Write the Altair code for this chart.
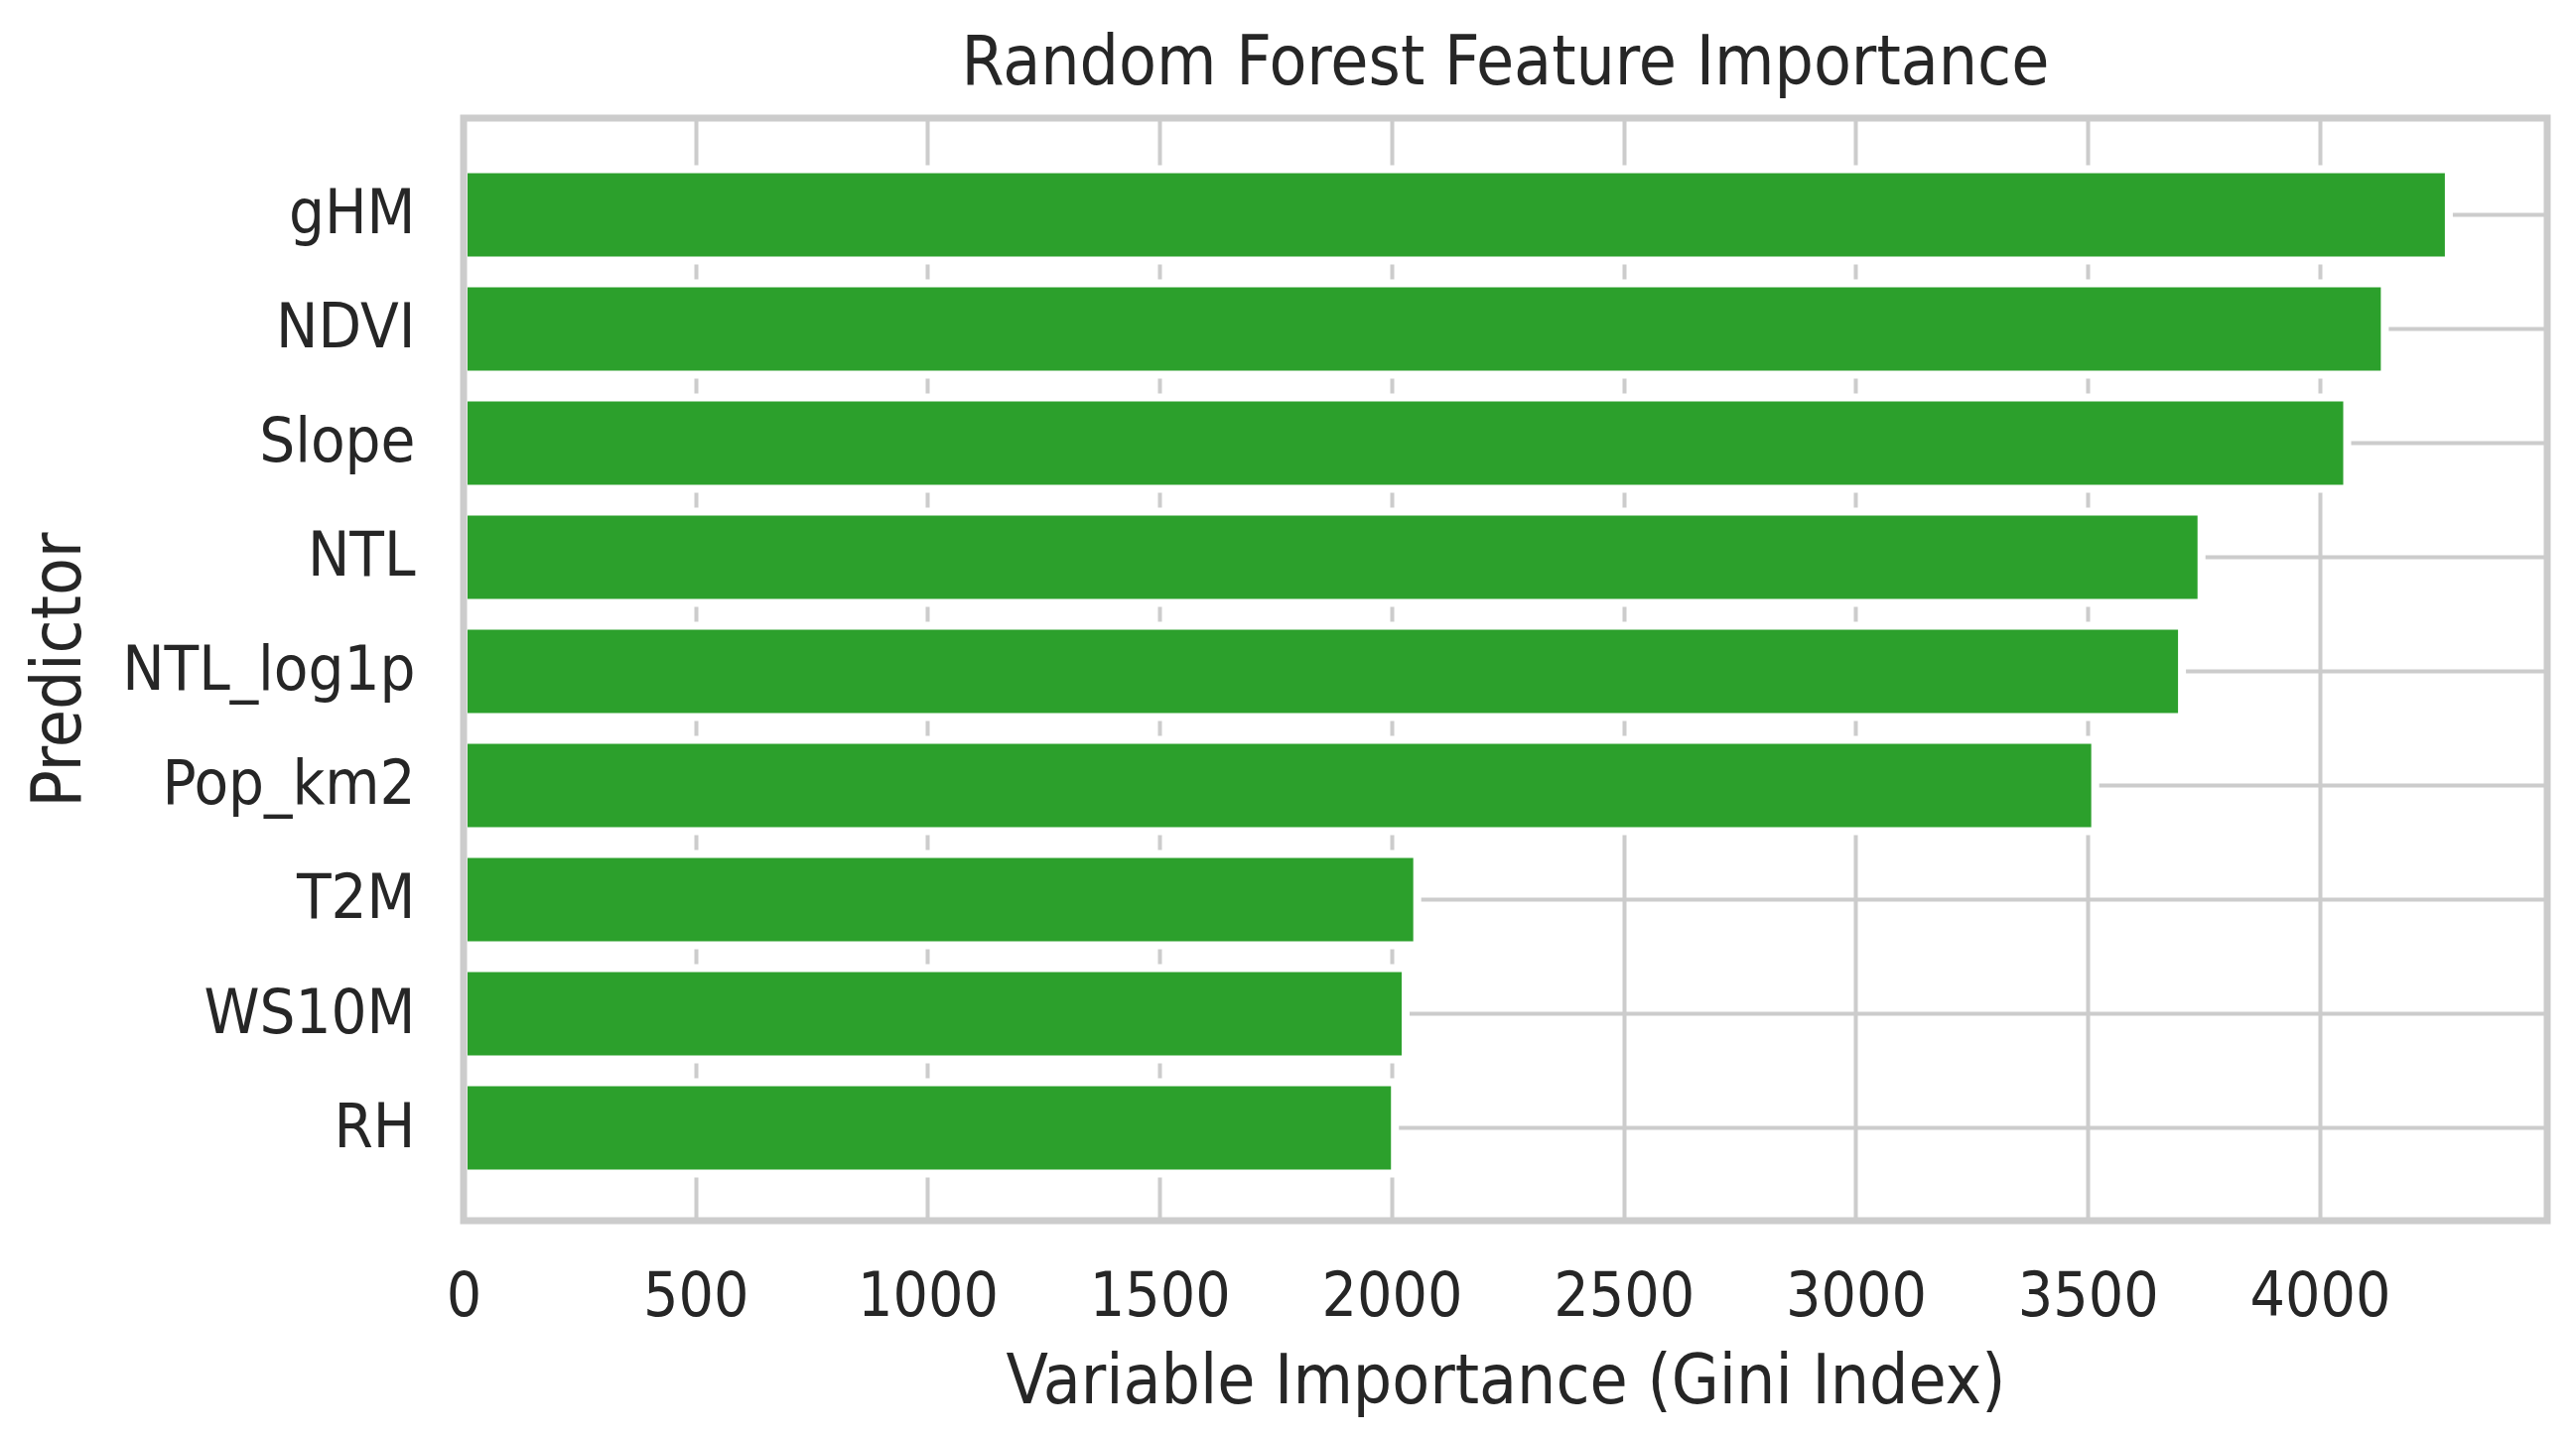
import altair as alt
import pandas as pd

predictors = ["gHM", "NDVI", "Slope", "NTL", "NTL_log1p", "Pop_km2", "T2M", "WS10M", "RH"]
importance = [4278, 4140, 4059, 3745, 3703, 3516, 2055, 2030, 2007]
x_ticks = [0, 500, 1000, 1500, 2000, 2500, 3000, 3500, 4000]

FONT = "DejaVu Sans Condensed, DejaVu Sans"
TXT = "#262626"
GRID = "#cccccc"
W, H = 2099, 1111

df = pd.DataFrame({"Predictor": predictors, "Importance": importance})

bars = alt.Chart(df).mark_bar(
    color="#2ca02c", stroke="white", strokeWidth=8
).encode(
    x=alt.X(
        "Importance:Q",
        scale=alt.Scale(domain=[0, 4490], nice=False, zero=True),
        axis=alt.Axis(
            values=x_ticks, format="d", title="Variable Importance (Gini Index)",
            grid=True, gridColor=GRID, gridWidth=4, domain=False, ticks=False, tickSize=0,
            labelFont=FONT, labelFontSize=62, labelColor=TXT, labelPadding=46,
            labelFlush=False,
            titleFont=FONT, titleFontSize=69, titleColor=TXT, titleFontWeight="normal",
            titleBaseline="alphabetic", titleY=183, titleX=W / 2, titleAlign="center",
        ),
    ),
    y=alt.Y(
        "Predictor:N",
        sort=predictors,
        scale=alt.Scale(paddingInner=0.2, paddingOuter=0.43, align=0.52),
        axis=alt.Axis(
            title="Predictor", grid=True, gridColor=GRID, gridWidth=4,
            domain=False, ticks=False, tickSize=0, bandPosition=0.5,
            labelFont=FONT, labelFontSize=63, labelColor=TXT, labelPadding=49,
            labelLimit=0,
            titleFont=FONT, titleFontSize=69, titleColor=TXT, titleFontWeight="normal",
            titleAngle=270, titleBaseline="alphabetic", titleAlign="center",
            titleX=-387, titleY=H / 2,
        ),
    ),
)

frame = alt.Chart(pd.DataFrame({"f": [0]})).mark_rect(
    fillOpacity=0, stroke=GRID, strokeWidth=7
).encode(
    x=alt.value(0), x2=alt.value(W), y=alt.value(0), y2=alt.value(H)
)

chart = alt.layer(bars, frame).properties(
    width=W, height=H,
    title=alt.TitleParams(
        "Random Forest Feature Importance", font=FONT, fontSize=69,
        color=TXT, fontWeight="normal", anchor="middle", baseline="alphabetic",
        offset=17, dy=55,
    ),
    autosize=alt.AutoSizeParams(type="none"),
    padding={"left": 459, "top": 111, "right": 21, "bottom": 200},
).configure_view(strokeWidth=0).configure(background="white")

chart.save("out.html", embed_options={"renderer": "svg", "actions": False})
